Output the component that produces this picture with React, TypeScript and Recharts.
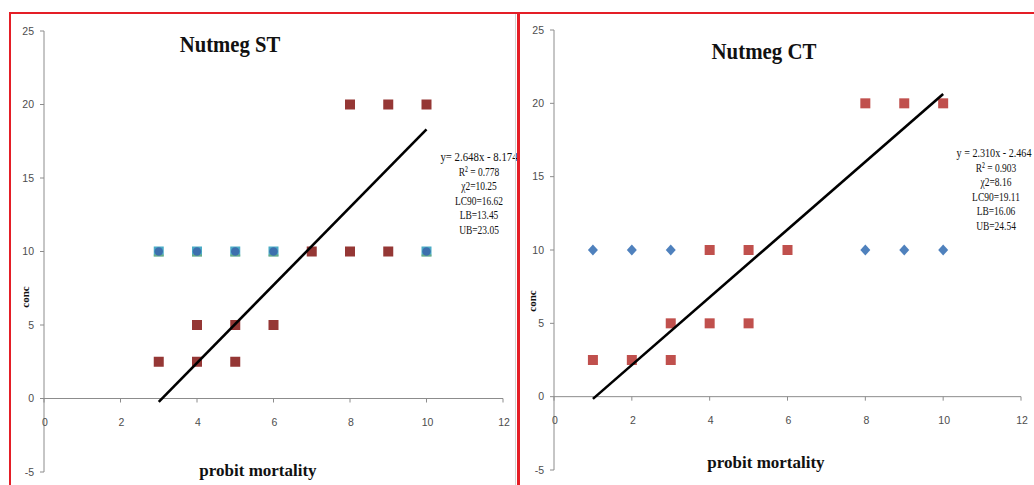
import React from 'react';
import { ScatterChart, Scatter, XAxis, YAxis, ReferenceLine } from 'recharts';

// ---------- shared axis ticks ----------
const xTicks = [0, 2, 4, 6, 8, 10, 12];
const yTicks = [-5, 0, 5, 10, 15, 20, 25];
const X_DOMAIN: [number, number] = [0, 12];
const Y_DOMAIN: [number, number] = [-5, 25];

// ---------- Nutmeg ST ----------
const stControlX = [3, 4, 5, 6, 10];
const stControlY = [10, 10, 10, 10, 10];
const stTreatX = [3, 4, 5, 4, 5, 6, 7, 8, 9, 8, 9, 10];
const stTreatY = [2.5, 2.5, 2.5, 5, 5, 5, 10, 10, 10, 20, 20, 20];
const stTrendX = [3, 10];
const stTrendY = [-0.23, 18.31];
const stStats = ['y= 2.648x - 8.174', 'R² = 0.778', 'χ2=10.25', 'LC90=16.62', 'LB=13.45', 'UB=23.05'];

// ---------- Nutmeg CT ----------
const ctControlX = [1, 2, 3, 8, 9, 10];
const ctControlY = [10, 10, 10, 10, 10, 10];
const ctTreatX = [1, 2, 3, 3, 4, 5, 4, 5, 6, 8, 9, 10];
const ctTreatY = [2.5, 2.5, 2.5, 5, 5, 5, 10, 10, 10, 20, 20, 20];
const ctTrendX = [1, 10];
const ctTrendY = [-0.15, 20.64];
const ctStats = ['y = 2.310x - 2.464', 'R² = 0.903', 'χ2=8.16', 'LC90=19.11', 'LB=16.06', 'UB=24.54'];

const AXIS = '#8c8c8c';
const TICK_TEXT = '#4d4d4d';
const RED_BORDER = '#e41e26';
const SERIF = '"Liberation Serif", "Times New Roman", serif';
const SANS = '"Liberation Sans", Arial, sans-serif';

const toPoints = (xs: number[], ys: number[]) => xs.map((x, i) => ({ x, y: ys[i] }));

const squareShape = (color: string) => (props: any) => {
  const { cx, cy } = props;
  if (cx == null || cy == null) return <g />;
  return <rect x={cx - 5} y={cy - 5} width={10} height={10} fill={color} />;
};

const tealCircleShape = (props: any) => {
  const { cx, cy } = props;
  if (cx == null || cy == null) return <g />;
  return (
    <g>
      <rect x={cx - 5} y={cy - 5} width={10} height={10} fill="#4bacc6" />
      <rect x={cx - 5} y={cy + 3} width={10} height={2} fill="#7fae5a" opacity={0.6} />
      <circle cx={cx} cy={cy} r={4.2} fill="#3d6fad" />
    </g>
  );
};

const diamondShape = (color: string) => (props: any) => {
  const { cx, cy } = props;
  if (cx == null || cy == null) return <g />;
  return <polygon points={`${cx},${cy - 5.5} ${cx + 5},${cy} ${cx},${cy + 5.5} ${cx - 5},${cy}`} fill={color} />;
};

const noShape = () => <g />;

const makeXTick = (zeroOffset: number) => (props: any) => {
  const { x, y, payload } = props;
  const y0 = y - zeroOffset;
  return (
    <g>
      <line x1={x} x2={x} y1={y0} y2={y0 + 4} stroke={AXIS} strokeWidth={1} />
      <text x={x + 1} y={y0 + 27} textAnchor="middle" fontSize={10.5} fontFamily={SANS} fill={TICK_TEXT}>
        {payload.value}
      </text>
    </g>
  );
};

type Txt = { x: number; y: number; text: string; size: number; bold?: boolean; sx?: number; rotate?: boolean };

const CenterText = ({ x, y, text, size, bold, sx = 1, rotate }: Txt) => (
  <div
    style={{
      position: 'absolute',
      left: x,
      top: y,
      transform: rotate ? 'translate(-50%, -50%) rotate(-90deg)' : `translate(-50%, -50%) scaleX(${sx})`,
      fontFamily: SERIF,
      fontSize: size,
      fontWeight: bold ? 700 : 400,
      lineHeight: 1,
      whiteSpace: 'nowrap',
      color: '#111',
    }}
  >
    {text}
  </div>
);

type PanelProps = {
  left: number;
  width: number;
  margin: { top: number; right: number; bottom: number; left: number };
  treat: { x: number; y: number }[];
  control: { x: number; y: number }[];
  trend: { x: number; y: number }[];
  treatShape: any;
  controlShape: any;
};

const HEIGHT = 485;

const Panel = ({ left, width, margin, treat, control, trend, treatShape, controlShape }: PanelProps) => {
  const plotH = HEIGHT - margin.top - margin.bottom - 1;
  const zeroOffset = (plotH * (0 - Y_DOMAIN[0])) / (Y_DOMAIN[1] - Y_DOMAIN[0]);
  return (
    <div style={{ position: 'absolute', left, top: 0 }}>
      <ScatterChart width={width} height={HEIGHT} margin={margin}>
        <XAxis
          type="number"
          dataKey="x"
          domain={X_DOMAIN}
          ticks={xTicks}
          interval={0}
          axisLine={false}
          tickLine={false}
          tickSize={0}
          tickMargin={0}
          height={1}
          tick={makeXTick(zeroOffset)}
          allowDataOverflow
        />
        <YAxis
          type="number"
          dataKey="y"
          domain={Y_DOMAIN}
          ticks={yTicks}
          interval={0}
          width={30}
          axisLine={{ stroke: AXIS, strokeWidth: 1 }}
          tickLine={{ stroke: AXIS, strokeWidth: 1 }}
          tickSize={4}
          tickMargin={6}
          tick={{ fontSize: 10.5, fontFamily: SANS, fill: TICK_TEXT }}
          allowDataOverflow
        />
        <ReferenceLine y={0} stroke={AXIS} strokeWidth={1} />
        <Scatter data={control} shape={controlShape} isAnimationActive={false} />
        <Scatter data={treat} shape={treatShape} isAnimationActive={false} />
        <Scatter
          data={trend}
          shape={noShape}
          line={{ stroke: '#000', strokeWidth: 2.6 }}
          isAnimationActive={false}
        />
      </ScatterChart>
    </div>
  );
};

export default function App() {
  const stAnnX = 479;
  const stAnnY = 157;
  const ctAnnX = 996;
  const ctAnnY = 153;
  const lineGap = 14.6;
  const annSize = 13.5;
  return (
    <div
      style={{
        position: 'absolute',
        left: 0,
        top: 0,
        width: 1034,
        height: HEIGHT,
        overflow: 'hidden',
        background: '#fff',
      }}
    >
      <Panel
        left={0}
        width={518}
        margin={{ top: 31, right: 15, bottom: 12, left: 14 }}
        treat={toPoints(stTreatX, stTreatY)}
        control={toPoints(stControlX, stControlY)}
        trend={toPoints(stTrendX, stTrendY)}
        treatShape={squareShape('#953735')}
        controlShape={tealCircleShape}
      />
      <Panel
        left={518}
        width={516}
        margin={{ top: 30, right: 13, bottom: 14, left: 6 }}
        treat={toPoints(ctTreatX, ctTreatY)}
        control={toPoints(ctControlX, ctControlY)}
        trend={toPoints(ctTrendX, ctTrendY)}
        treatShape={squareShape('#c0504d')}
        controlShape={diamondShape('#4f81bd')}
      />

      {/* titles */}
      <CenterText x={230} y={43.5} text="Nutmeg ST" size={24} bold sx={0.86} />
      <CenterText x={764} y={51} text="Nutmeg CT" size={24} bold sx={0.87} />

      {/* axis titles */}
      <CenterText x={258} y={470} text="probit mortality" size={17} bold />
      <CenterText x={766} y={461.5} text="probit mortality" size={17} bold />
      <CenterText x={25} y={297} text="conc" size={11} bold rotate />
      <CenterText x={532} y={301} text="conc" size={11} bold rotate />

      {/* statistics */}
      {stStats.map((t, i) => (
        <CenterText key={'st' + i} x={stAnnX} y={stAnnY + i * lineGap} text={t} size={annSize} sx={i === 0 ? 0.8 : 0.7} />
      ))}
      {ctStats.map((t, i) => (
        <CenterText
          key={'ct' + i}
          x={i === 0 ? 994 : ctAnnX}
          y={ctAnnY + i * lineGap}
          text={t}
          size={annSize}
          sx={i === 0 ? 0.75 : 0.7}
        />
      ))}

      {/* red frame */}
      <div style={{ position: 'absolute', left: 9, top: 12, width: 1030, height: 2, background: RED_BORDER }} />
      <div style={{ position: 'absolute', left: 9, top: 12, width: 2, height: 480, background: RED_BORDER }} />
      <div style={{ position: 'absolute', left: 517, top: 12, width: 2.5, height: 480, background: RED_BORDER }} />
      <div style={{ position: 'absolute', left: 515, top: 14, width: 1, height: 480, background: '#d4d4d4' }} />
    </div>
  );
}
